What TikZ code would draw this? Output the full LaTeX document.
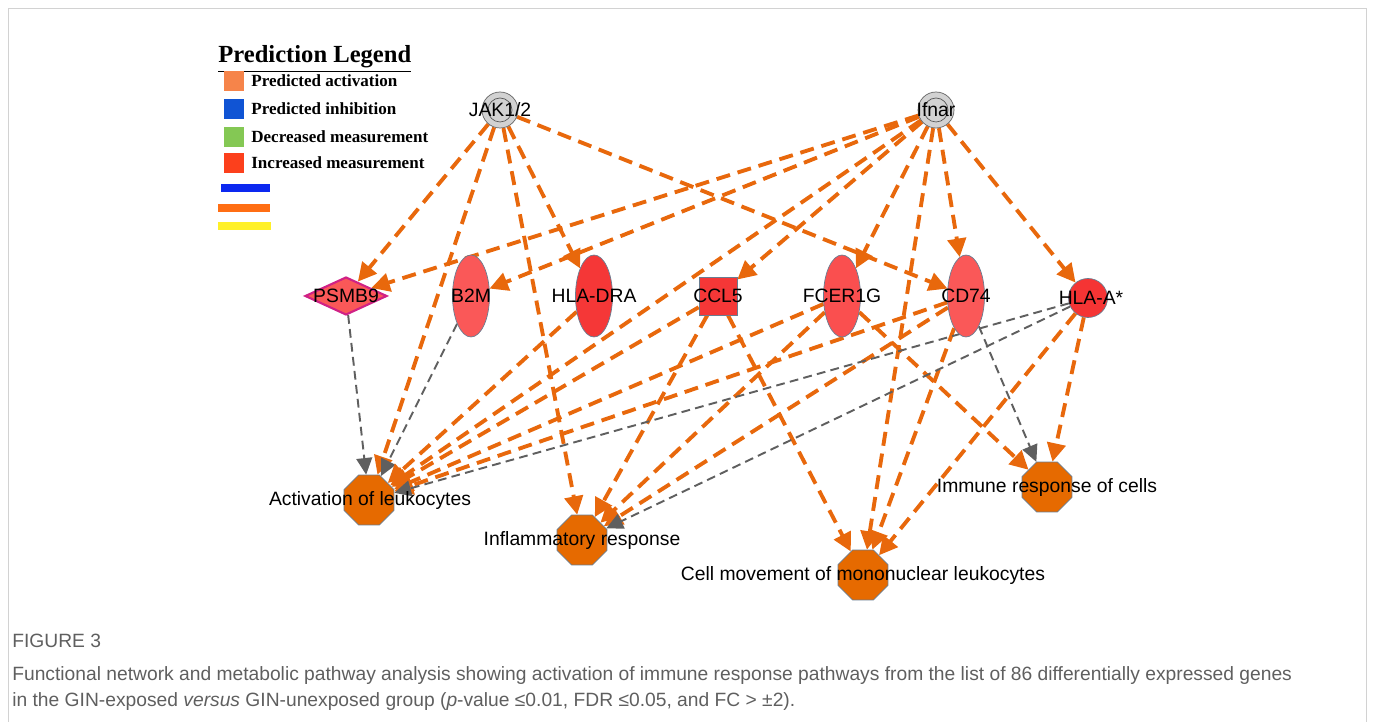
\documentclass[tikz,border=0pt]{standalone}
\usepackage{fontspec}
\setmainfont{Liberation Sans}
\newfontfamily\legfont{Liberation Serif}
\usetikzlibrary{arrows.meta,shapes.geometric}
\definecolor{orng}{RGB}{232,104,12}
\definecolor{edgegray}{RGB}{95,95,95}
\definecolor{fnfill}{RGB}{230,106,0}
\definecolor{fnedge}{RGB}{105,125,145}
\definecolor{upred}{RGB}{250,88,88}
\definecolor{upredd}{RGB}{245,55,55}
\definecolor{capgray}{RGB}{95,95,95}
\definecolor{legact}{RGB}{246,132,74}
\definecolor{leginh}{RGB}{16,84,212}
\definecolor{legdec}{RGB}{132,200,84}
\definecolor{leginc}{RGB}{252,64,28}
\definecolor{legblue}{RGB}{12,40,240}
\definecolor{legorng}{RGB}{255,110,20}
\definecolor{legyell}{RGB}{255,240,40}

\pgfdeclarelayer{edges}
\pgfsetlayers{edges,main}

\tikzset{
  lbl/.style={font=\fontsize{11}{13}\selectfont, inner sep=0pt},
  hub/.style={circle, draw=gray!80!black, fill=gray!35, minimum size=0.72cm, inner sep=0pt,
    path picture={\draw[gray!70!black] (path picture bounding box.center) circle (0.24cm);}},
  upell/.style={ellipse, draw=fnedge, fill=upred, minimum width=0.74cm, minimum height=1.64cm, inner sep=0pt},
  fnoct/.style={regular polygon, regular polygon sides=8, draw=fnedge, fill=fnfill, minimum size=1.08cm, inner sep=0pt},
  act/.style={orng, line width=2.2pt, dash pattern=on 8pt off 4.5pt, -{Triangle[length=10.5pt,width=10.5pt]}},
  rel/.style={edgegray, line width=1.1pt, dash pattern=on 5pt off 3pt, -{Triangle[length=9.5pt,width=9pt]}},
  legbox/.style={minimum size=0.4cm, inner sep=0pt},
  legtxt/.style={anchor=west, font=\legfont\bfseries\fontsize{9.7}{11}\selectfont, inner sep=0pt},
  captxt/.style={anchor=base west, inner sep=0pt, text=capgray, font=\fontsize{10.95}{13}\selectfont},
}

\begin{document}
\begin{tikzpicture}[x=0.02cm,y=-0.02cm]
  \useasboundingbox (0,0) rectangle (1373,722);
  \draw[gray!35] (8,722) -- (8,8) -- (1366,8) -- (1366,722);

  % legend
  \node[anchor=base west, inner sep=0pt, font=\legfont\bfseries\fontsize{14}{16}\selectfont] (legtitle) at (218,63) {\underline{Prediction Legend}};
  \node[legbox, fill=legact] (sqact) at (234,81) {};
  \node[legbox, fill=leginh] (sqinh) at (234,109) {};
  \node[legbox, fill=legdec] (sqdec) at (234,137) {};
  \node[legbox, fill=leginc] (sqinc) at (234,163) {};
  \node[legtxt] at (251,81) {Predicted activation};
  \node[legtxt] at (251,109) {Predicted inhibition};
  \node[legtxt] at (251,137) {Decreased measurement};
  \node[legtxt] at (251,163) {Increased measurement};
  \draw[legblue, line width=0.16cm] (221,188) -- (270,188);
  \draw[legorng, line width=0.16cm] (218,208) -- (270,208);
  \draw[legyell, line width=0.16cm] (218,226) -- (271,226);

  % upstream regulators
  \node[hub] (jak) at (500,110) {};
  \node[hub] (ifnar) at (936,110) {};
  \node[lbl] at (jak) {JAK1/2};
  \node[lbl] at (ifnar) {Ifnar};

  % molecules
  \node[diamond, draw=magenta!85!black, line width=1.2pt, fill=upred, minimum width=1.64cm, minimum height=0.76cm, inner sep=0pt] (psmb9) at (346,296) {};
  \node[upell] (b2m) at (471,296) {};
  \node[upell, fill=upredd] (hladra) at (594,296) {};
  \node[rectangle, draw=fnedge, fill=upredd, minimum size=0.76cm, inner sep=0pt] (ccl5) at (718,296) {};
  \node[upell, fill=upred!90!red] (fcer) at (842,296) {};
  \node[upell] (cd74) at (966,296) {};
  \node[circle, draw=fnedge, fill=upredd!95!red, minimum size=0.78cm, inner sep=0pt] (hlaa) at (1088,298) {};
  \node[lbl] at (psmb9) {PSMB9};
  \node[lbl] at (b2m) {B2M};
  \node[lbl] at (hladra) {HLA-DRA};
  \node[lbl] at (ccl5) {CCL5};
  \node[lbl] at (fcer) {FCER1G};
  \node[lbl] at (cd74) {CD74};
  \node[lbl] at ([xshift=0.06cm]hlaa) {HLA-A*};

  % functions
  \node[fnoct] (actleu) at (369,500) {};
  \node[fnoct] (infl) at (582,540) {};
  \node[fnoct] (cellmov) at (863,575) {};
  \node[fnoct] (immune) at (1047,487) {};
  \node[lbl] at (370,501) {Activation of leukocytes};
  \node[lbl] at (582,541) {Inflammatory response};
  \node[lbl] at (863,576) {Cell movement of mononuclear leukocytes};
  \node[lbl] at (1047,488) {Immune response of cells};

  \begin{pgfonlayer}{edges}
  \draw[act] (jak) -- (psmb9);
  \draw[act] (jak) -- (actleu);
  \draw[act] (jak) -- (infl);
  \draw[act] (jak) -- (hladra);
  \draw[act] (jak) -- (cd74);
  \draw[act] (ifnar) -- (psmb9);
  \draw[act] (ifnar) -- (b2m);
  \draw[act] (ifnar) -- (actleu);
  \draw[act] (ifnar) -- (ccl5);
  \draw[act] (ifnar) -- (fcer);
  \draw[act] (ifnar) -- (cellmov);
  \draw[act] (ifnar) -- (cd74);
  \draw[act] (ifnar) -- (hlaa);
  \draw[rel] (psmb9) -- (actleu);
  \draw[rel] (b2m) -- (actleu);
  \draw[act] (hladra) -- (actleu);
  \draw[act] (ccl5) -- (actleu);
  \draw[act] (ccl5) -- (infl);
  \draw[act] (ccl5) -- (cellmov);
  \draw[act] (fcer) -- (actleu);
  \draw[act] (fcer) -- (infl);
  \draw[act] (fcer) -- (immune);
  \draw[act] (cd74) -- (actleu);
  \draw[act] (cd74) -- (infl);
  \draw[act] (cd74) -- (cellmov);
  \draw[rel] (cd74) -- (immune);
  \draw[rel] (hlaa) -- (actleu);
  \draw[rel] (hlaa) -- (infl);
  \draw[act] (hlaa) -- (cellmov);
  \draw[act] (hlaa) -- (immune);
  \end{pgfonlayer}

  % caption
  \node[captxt] (figno) at (12,647) {FIGURE 3};
  \node[captxt] (capone) at (12,681) {Functional network and metabolic pathway analysis showing activation of immune response pathways from the list of 86 differentially expressed genes};
  \node[captxt] (captwo) at (12,706) {in the GIN-exposed \textit{versus} GIN-unexposed group (\textit{p}-value ≤0.01, FDR ≤0.05, and FC > ±2).};
\end{tikzpicture}
\end{document}
